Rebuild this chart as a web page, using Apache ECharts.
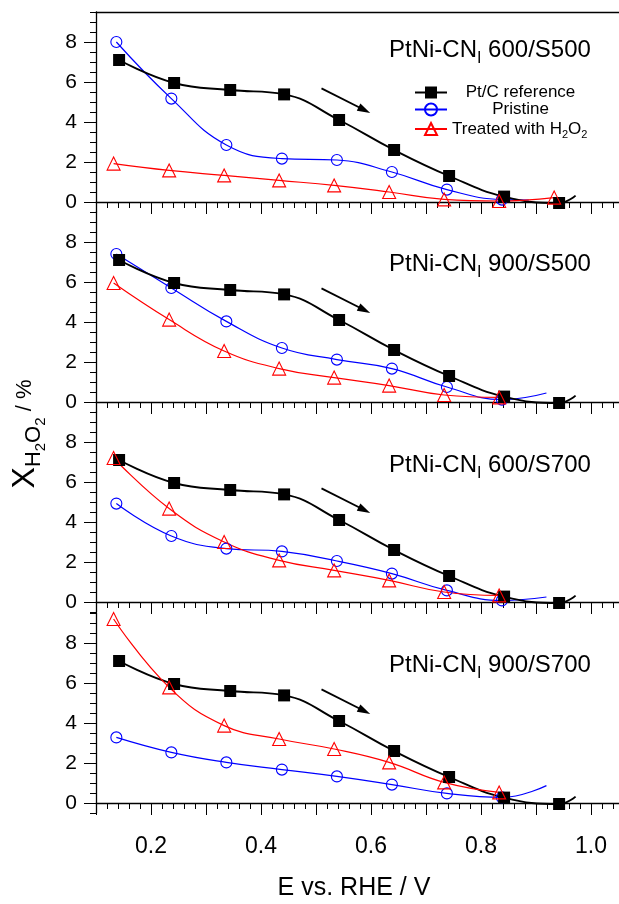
<!DOCTYPE html>
<html><head><meta charset="utf-8">
<script src="https://cdn.jsdelivr.net/npm/echarts@6/dist/echarts.min.js"></script>
<style>html,body{margin:0;padding:0;background:#fff}#c{width:619px;height:904px}</style>
</head><body><div id="c"></div>
<script>
const FONT = '"Liberation Sans", Arial, Helvetica, sans-serif';

// ---------- data ----------
const panelSamples = ['600/S500', '900/S500', '600/S700', '900/S700'];
const seriesNames = ['Pt/C reference', 'Pristine', 'Treated with H2O2'];

const ePtC      = [0.142, 0.242, 0.344, 0.442, 0.542, 0.642, 0.742, 0.842, 0.942];
const ePristine = [0.137, 0.237, 0.337, 0.438, 0.538, 0.638, 0.738, 0.838];
const eTreated  = [0.132, 0.233, 0.333, 0.433, 0.533, 0.633, 0.733, 0.833, 0.933];

const ptcRef  = [7.1, 5.95, 5.6, 5.38, 4.1, 2.6, 1.3, 0.27, -0.05];
const ptcTail = [0.972, 0.32];   // end of the fitted curve

const pristine600S500 = [8.0, 5.17, 2.85, 2.17, 2.1, 1.5, 0.62, 0.12];
const pristine900S500 = [7.4, 5.7, 4.03, 2.7, 2.12, 1.67, 0.75, 0.12];
const pristine600S700 = [4.92, 3.3, 2.67, 2.53, 2.05, 1.42, 0.58, 0.08];
const pristine900S700 = [3.28, 2.53, 2.03, 1.67, 1.33, 0.92, 0.48, 0.28];
const pristineTails = [[0.887, 0.1], [0.919, 0.45], [0.919, 0.25], [0.919, 0.87]];

const treated600S500 = [1.92, 1.58, 1.33, 1.08, 0.83, 0.5, 0.13, 0.05, 0.22];
const treated900S500 = [5.95, 4.12, 2.55, 1.67, 1.22, 0.82, 0.35, 0.23];
const treated600S700 = [7.2, 4.67, 3.0, 2.08, 1.58, 1.08, 0.5, 0.33];
const treated900S700 = [9.2, 5.78, 3.87, 3.2, 2.7, 2.03, 1.03, 0.53];

const arrowTail = [0.51, 5.68];
const arrowHead = [0.588, 4.6];

const pristineAll = [pristine600S500, pristine900S500, pristine600S700, pristine900S700];
const treatedAll  = [treated600S500, treated900S500, treated600S700, treated900S700];

// ---------- layout ----------
const panelTops = [12, 212, 412, 613];
const panelH = 200;
const gridLeft = 96;
const gridWidth = 550;
const titleY = [50.2, 264.7, 465.2, 665.7];

const grids = [], xAxes = [], yAxes = [], series = [];
const axisLineStyle = { color: '#000', width: 1.3 };

panelTops.forEach((top) => {
  grids.push({ left: gridLeft, width: gridWidth, top: top, height: panelH, containLabel: false, outerBoundsMode: 'none' });
});
panelTops.forEach((top) => {
  // helper grid for major y ticks & labels (0..8)
  grids.push({ left: gridLeft, width: gridWidth, top: top + 30, height: 160, containLabel: false, outerBoundsMode: 'none' });
});

panelTops.forEach((top, p) => {
  xAxes.push({
    type: 'value', gridIndex: p, position: 'bottom', min: 0.1, max: 1.1, interval: 0.1,
    axisLine: { show: true, lineStyle: axisLineStyle },
    axisTick: { show: true, length: 12, lineStyle: { color: '#000', width: 1 } },
    minorTick: { show: true, splitNumber: 5, length: 6, lineStyle: { color: '#000', width: 1 } },
    splitLine: { show: false }, minorSplitLine: { show: false },
    axisLabel: {
      show: p === 3, margin: 22, fontSize: 23, fontFamily: FONT, color: '#000',
      formatter: v => (Math.round(v * 10) % 2 === 0 ? v.toFixed(1) : '')
    }
  });
  yAxes.push({
    type: 'value', gridIndex: p, min: -0.5, max: 9.5, interval: 0.5,
    axisLine: { show: true, lineStyle: axisLineStyle },
    axisTick: { show: true, length: 6, lineStyle: { color: '#000', width: 1 } },
    axisLabel: { show: false }, splitLine: { show: false }
  });
});
panelTops.forEach((top, p) => {
  xAxes.push({ type: 'value', gridIndex: 4 + p, min: 0, max: 1, show: false });
  yAxes.push({
    type: 'value', gridIndex: 4 + p, min: 0, max: 8, interval: 2,
    axisLine: { show: false },
    axisTick: { show: true, length: 12, lineStyle: { color: '#000', width: 1 } },
    axisLabel: { show: true, margin: 19, fontSize: 21, fontFamily: FONT, color: '#000' },
    splitLine: { show: false }
  });
});
// top border of first panel
xAxes.push({
  type: 'value', gridIndex: 0, position: 'top', min: 0.1, max: 1.1,
  axisLine: { show: true, lineStyle: axisLineStyle },
  axisTick: { show: false }, axisLabel: { show: false }, splitLine: { show: false }
});

function mk(p, name, xs, ys, tail, color, symbol, size, width, filled, extra) {
  const data = xs.map((x, i) => [x, ys[i]]).filter(d => d[1] !== undefined);
  if (tail) data.push({ value: tail, symbol: 'none' });
  return Object.assign({
    type: 'line', name: name, xAxisIndex: p, yAxisIndex: p, data: data,
    smooth: 0.45, symbol: symbol, symbolSize: size, color: color,
    lineStyle: { color: color, width: width },
    itemStyle: filled ? { color: color } : { color: 'transparent', borderColor: color, borderWidth: 1.1 },
    emphasis: { disabled: true }, animation: false
  }, extra || {});
}

panelTops.forEach((top, p) => {
  series.push(mk(p, seriesNames[1], ePristine, pristineAll[p], pristineTails[p], '#0000ff', 'circle', 11, 1.2, false));
  series.push(mk(p, seriesNames[0], ePtC, ptcRef, ptcTail, '#000000', 'rect', 12, 1.9, true, {
    markLine: {
      silent: true, animation: false, symbol: ['none', 'triangle'], symbolSize: [8, 13],
      lineStyle: { color: '#000', width: 1.8, type: 'solid' }, label: { show: false },
      emphasis: { disabled: true },
      data: [[{ coord: arrowTail }, { coord: arrowHead }]]
    }
  }));
  series.push(mk(p, seriesNames[2], eTreated, treatedAll[p], null, '#ff0000', 'triangle', 13, 1.2, false));
});

const graphics = [];
panelTops.forEach((top, p) => {
  graphics.push({
    type: 'text', x: 389, y: titleY[p], silent: true,
    style: {
      text: '{a|PtNi-CN}{s|I}{a| ' + panelSamples[p] + '}',
      align: 'left', verticalAlign: 'middle', fill: '#000', font: '24px ' + FONT,
      rich: {
        a: { fontSize: 24, fontFamily: FONT, lineHeight: 24, verticalAlign: 'top', fill: '#000' },
        s: { fontSize: 16, fontFamily: FONT, lineHeight: 16, padding: [12, 0, 0, 0], verticalAlign: 'top', fill: '#000' }
      }
    }
  });
});
graphics.push({
  type: 'text', x: 25, y: 434, rotation: Math.PI / 2, silent: true,
  style: {
    text: '{x|X}{s|H}{ss|2}{s|O}{ss|2}{n| / %}',
    align: 'center', verticalAlign: 'middle', fill: '#000', font: '32px ' + FONT,
    rich: {
      x:  { fontSize: 32, fontFamily: FONT, lineHeight: 32, verticalAlign: 'top', fill: '#000' },
      s:  { fontSize: 22, fontFamily: FONT, lineHeight: 22, padding: [14, 0, 0, 0], verticalAlign: 'top', fill: '#000' },
      ss: { fontSize: 15, fontFamily: FONT, lineHeight: 15, padding: [24, 0, 0, 0], verticalAlign: 'top', fill: '#000' },
      n:  { fontSize: 22, fontFamily: FONT, lineHeight: 22, padding: [5, 0, 0, 0], verticalAlign: 'top', fill: '#000' }
    }
  }
});
graphics.push({
  type: 'text', x: 354, y: 888, silent: true,
  style: { text: 'E vs. RHE / V', align: 'center', verticalAlign: 'middle', fill: '#000', font: '25px ' + FONT }
});

const chart = echarts.init(document.getElementById('c'), null, { renderer: 'canvas' });
chart.setOption({
  backgroundColor: '#fff',
  animation: false,
  grid: grids, xAxis: xAxes, yAxis: yAxes, series: series,
  legend: {
    data: seriesNames, orient: 'vertical', left: 414, top: 84, padding: 0,
    itemWidth: 32, itemHeight: 15, itemGap: 0, selectedMode: false,
    textStyle: {
      fontSize: 17, fontFamily: FONT, color: '#000',
      rich: {
        c: { width: 137, align: 'center', fontSize: 17, lineHeight: 19, fontFamily: FONT, color: '#000' },
        t: { fontSize: 17, lineHeight: 19, fontFamily: FONT, color: '#000' },
        u: { fontSize: 11, lineHeight: 8, padding: [11, 0, 0, 0], fontFamily: FONT, color: '#000' }
      }
    },
    formatter: name => name === 'Treated with H2O2'
      ? '{t|Treated with H}{u|2}{t|O}{u|2}'
      : '{c|' + name + '}'
  },
  graphic: graphics
});
</script></body></html>
